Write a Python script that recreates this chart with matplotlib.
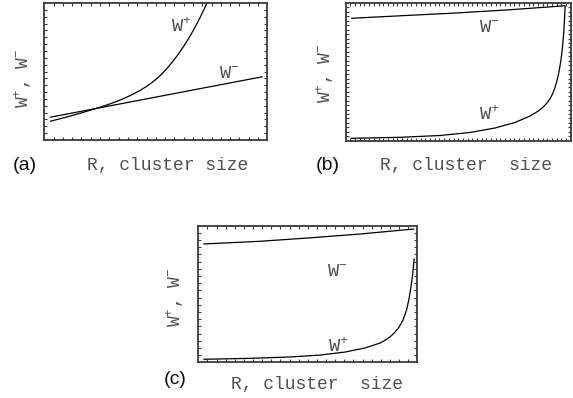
import numpy as np
import matplotlib
matplotlib.use("Agg")
import matplotlib.pyplot as plt
from matplotlib.ticker import FixedLocator

# ---- data (arbitrary units, R on x, transition rates on y) ----
# panel (a)
a_R_plus = [0.256, 0.704, 1.152, 1.601, 2.049, 2.498, 2.946, 3.395, 3.843, 4.291, 4.650,
            4.964, 5.278, 5.547, 5.816, 6.085, 6.309, 6.534, 6.758, 6.982, 7.206, 7.386]
a_W_plus = [1.365, 1.547, 1.745, 1.949, 2.168, 2.394, 2.635, 2.912, 3.234, 3.613, 3.978,
            4.365, 4.832, 5.307, 5.839, 6.438, 6.985, 7.577, 8.226, 8.927, 9.686, 10.343]
a_R_minus = [0.26, 9.79]
a_W_minus = [1.66, 4.62]

# panel (b)
b_R_plus = [0.236, 2.413, 4.191, 5.524, 6.636, 7.524, 8.191, 8.547, 8.769, 8.947, 9.080,
            9.191, 9.302, 9.391, 9.467, 9.533, 9.591, 9.640, 9.680, 9.711, 9.738, 9.756]
b_W_plus = [0.174, 0.247, 0.378, 0.596, 0.922, 1.322, 1.794, 2.142, 2.433, 2.738, 3.043,
            3.388, 3.860, 4.354, 4.895, 5.505, 6.166, 6.885, 7.640, 8.402, 9.274, 9.797]
b_R_minus = [0.24, 2.41, 4.86, 7.30, 9.756]
b_W_minus = [8.89, 9.07, 9.27, 9.51, 9.80]

# panel (c)
c_R_plus = [0.23, 2.36, 4.19, 5.56, 6.70, 7.61, 8.30, 8.525, 8.75, 8.936, 9.12, 9.233,
            9.35, 9.51, 9.62, 9.71, 9.79, 9.83, 9.86]
c_W_plus = [0.22, 0.29, 0.39, 0.53, 0.75, 1.05, 1.41, 1.611, 1.85, 2.130, 2.47, 2.760,
            3.10, 3.83, 4.63, 5.51, 6.46, 7.12, 7.61]
c_R_minus = [0.23, 2.82, 5.10, 7.38, 9.86]
c_W_minus = [8.66, 8.86, 9.11, 9.39, 9.76]

W_PLUS = r"$\mathregular{W^{+}}$"
W_MINUS = r"$\mathregular{W^{-}}$"
Y_LABEL = r"$\mathregular{W^{+},\ W^{-}}$"

MONO = ["Liberation Mono", "DejaVu Sans Mono"]
SANS = ["Liberation Sans", "DejaVu Sans"]

W, H = 573, 398
fig = plt.figure(figsize=(W / 100, H / 100), dpi=100)
fig.patch.set_facecolor("white")


def px_axes(x0, y0, x1, y1):
    return fig.add_axes([x0 / W, 1 - y1 / H, (x1 - x0) / W, (y1 - y0) / H])


def fig_text(x, y, s, **kw):
    fig.text(x / W, 1 - y / H, s, ha="center", va="center", **kw)


def style(ax, nx, ny):
    ax.set_xlim(0, 10)
    ax.set_ylim(0, 10)
    for sp in ax.spines.values():
        sp.set_linewidth(1.3)
        sp.set_color("#3a3a3a")
    xt = np.linspace(0, 10, nx + 2)[1:-1]
    yt = np.linspace(0, 10, ny + 2)[1:-1]
    ax.xaxis.set_major_locator(FixedLocator(xt))
    ax.yaxis.set_major_locator(FixedLocator(yt))
    ax.tick_params(which="both", direction="in", top=True, right=True,
                   labelbottom=False, labelleft=False, length=2.5,
                   width=0.8, color="#3a3a3a")


line_kw = dict(color="black", lw=0.9, solid_capstyle="butt", solid_joinstyle="round")

# (a)
ax_a = px_axes(44.3, 3, 267.3, 140)
style(ax_a, 23, 19)
ax_a.plot(a_R_plus, a_W_plus, **line_kw)
ax_a.plot(a_R_minus, a_W_minus, **line_kw)

# (b)
ax_b = px_axes(345.7, 3, 570.7, 140.7)
style(ax_b, 47, 30)
ax_b.plot(b_R_plus, b_W_plus, **line_kw)
ax_b.plot(b_R_minus, b_W_minus, **line_kw)

# (c)
ax_c = px_axes(198.3, 225.7, 417.3, 362.3)
style(ax_c, 23, 18)
ax_c.plot(c_R_plus, c_W_plus, **line_kw)
ax_c.plot(c_R_minus, c_W_minus, **line_kw)

txt_col = "#505050"
# curve labels
fig_text(181, 27, W_PLUS, family=MONO, fontsize=13.5, color=txt_col)
fig_text(229, 74, W_MINUS, family=MONO, fontsize=13.5, color=txt_col)
fig_text(489, 28, W_MINUS, family=MONO, fontsize=13.5, color=txt_col)
fig_text(489, 115, W_PLUS, family=MONO, fontsize=13.5, color=txt_col)
fig_text(337, 272, W_MINUS, family=MONO, fontsize=13.5, color=txt_col)
fig_text(338, 347, W_PLUS, family=MONO, fontsize=13.5, color=txt_col)

# axis labels
fig_text(23, 78, Y_LABEL, family=MONO, fontsize=13, color=txt_col, rotation=90)
fig_text(325, 73, Y_LABEL, family=MONO, fontsize=13, color=txt_col, rotation=90)
fig_text(175, 297, Y_LABEL, family=MONO, fontsize=13, color=txt_col, rotation=90)

fig_text(168, 166, "R, cluster size", family=MONO, fontsize=13, color=txt_col)
fig_text(466, 166, "R, cluster  size", family=MONO, fontsize=13, color=txt_col)
fig_text(317, 384, "R, cluster  size", family=MONO, fontsize=13, color=txt_col)

# panel tags
fig_text(25, 166, "(a)", family=SANS, fontsize=14, color="#111111")
fig_text(328, 166, "(b)", family=SANS, fontsize=14, color="#111111")
fig_text(175, 380, "(c)", family=SANS, fontsize=14, color="#111111")

fig.savefig("out.png", dpi=100, facecolor="white")
